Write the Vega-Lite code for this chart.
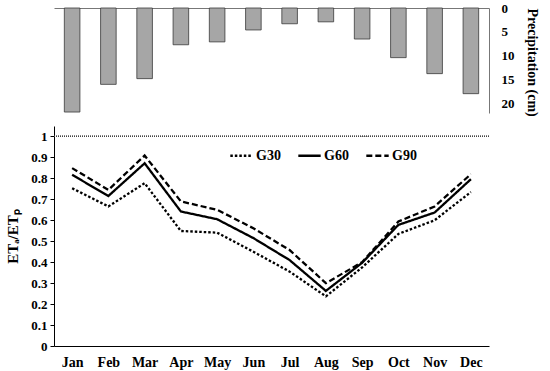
{
  "$schema": "https://vega.github.io/schema/vega-lite/v6.json",
  "padding": {"left": 5, "top": 2, "right": 4, "bottom": 2},
  "spacing": 9,
  "config": {
    "view": {"stroke": null},
    "font": "Liberation Serif",
    "axis": {
      "labelFont": "Liberation Serif", "labelFontWeight": "bold", "labelColor": "black",
      "titleFont": "Liberation Serif", "titleFontWeight": "bold", "titleColor": "black",
      "domainColor": "black", "tickColor": "black", "grid": false
    },
    "legend": {"labelFont": "Liberation Serif", "labelFontWeight": "bold", "labelColor": "black"}
  },
  "datasets": {
    "precip": [
      {"month": "Jan", "precip": 21.8}, {"month": "Feb", "precip": 16.0}, {"month": "Mar", "precip": 14.8},
      {"month": "Apr", "precip": 7.7}, {"month": "May", "precip": 7.1}, {"month": "Jun", "precip": 4.6},
      {"month": "Jul", "precip": 3.3}, {"month": "Aug", "precip": 2.9}, {"month": "Sep", "precip": 6.5},
      {"month": "Oct", "precip": 10.4}, {"month": "Nov", "precip": 13.75}, {"month": "Dec", "precip": 17.95}
    ],
    "ratio": [
      {"month": "Jan", "series": "G30", "value": 0.753}, {"month": "Feb", "series": "G30", "value": 0.666},
      {"month": "Mar", "series": "G30", "value": 0.777}, {"month": "Apr", "series": "G30", "value": 0.549},
      {"month": "May", "series": "G30", "value": 0.541}, {"month": "Jun", "series": "G30", "value": 0.45},
      {"month": "Jul", "series": "G30", "value": 0.355}, {"month": "Aug", "series": "G30", "value": 0.237},
      {"month": "Sep", "series": "G30", "value": 0.375}, {"month": "Oct", "series": "G30", "value": 0.535},
      {"month": "Nov", "series": "G30", "value": 0.6}, {"month": "Dec", "series": "G30", "value": 0.735},
      {"month": "Jan", "series": "G60", "value": 0.817}, {"month": "Feb", "series": "G60", "value": 0.716},
      {"month": "Mar", "series": "G60", "value": 0.872}, {"month": "Apr", "series": "G60", "value": 0.642},
      {"month": "May", "series": "G60", "value": 0.605}, {"month": "Jun", "series": "G60", "value": 0.515},
      {"month": "Jul", "series": "G60", "value": 0.41}, {"month": "Aug", "series": "G60", "value": 0.263},
      {"month": "Sep", "series": "G60", "value": 0.397}, {"month": "Oct", "series": "G60", "value": 0.578},
      {"month": "Nov", "series": "G60", "value": 0.637}, {"month": "Dec", "series": "G60", "value": 0.796},
      {"month": "Jan", "series": "G90", "value": 0.849}, {"month": "Feb", "series": "G90", "value": 0.745},
      {"month": "Mar", "series": "G90", "value": 0.909}, {"month": "Apr", "series": "G90", "value": 0.69},
      {"month": "May", "series": "G90", "value": 0.65}, {"month": "Jun", "series": "G90", "value": 0.562},
      {"month": "Jul", "series": "G90", "value": 0.458}, {"month": "Aug", "series": "G90", "value": 0.3},
      {"month": "Sep", "series": "G90", "value": 0.4}, {"month": "Oct", "series": "G90", "value": 0.594},
      {"month": "Nov", "series": "G90", "value": 0.666}, {"month": "Dec", "series": "G90", "value": 0.82}
    ]
  },
  "vconcat": [
    {
      "width": 435,
      "height": 105,
      "data": {"name": "precip"},
      "mark": {"type": "bar", "fill": "#a6a6a6", "stroke": "#3a3a3a", "strokeWidth": 0.8},
      "encoding": {
        "x": {
          "field": "month", "type": "nominal", "sort": null,
          "scale": {"paddingInner": 0.57, "paddingOuter": 0.285},
          "axis": {"orient": "top", "labels": false, "ticks": false, "title": null, "domainColor": "#777", "domainWidth": 1, "minExtent": 0, "maxExtent": 0}
        },
        "y": {
          "field": "precip", "type": "quantitative",
          "scale": {"domain": [0, 22], "reverse": true, "nice": false, "zero": true},
          "axis": {
            "orient": "right", "values": [0, 5, 10, 15, 20], "ticks": false, "labelPadding": 12,
            "labelFontSize": 13, "domainColor": "#777",
            "title": "Precipitation (cm)", "titleAngle": 90, "titleFontSize": 14, "titlePadding": 10,
            "titleY": 0, "titleAlign": "left"
          }
        }
      }
    },
    {
      "width": 435,
      "height": 220,
      "data": {"name": "ratio"},
      "encoding": {
        "y": {
          "field": "value", "type": "quantitative",
          "scale": {"domain": [0, 1.05], "nice": false},
          "axis": {
            "values": [0, 0.1, 0.2, 0.3, 0.4, 0.5, 0.6, 0.7, 0.8, 0.9, 1], "format": "~g",
            "labelOverlap": false, "tickSize": 4, "labelPadding": 3, "labelFontSize": 13,
            "title": "ETₐ/ETₚ", "titleFontSize": 15, "titlePadding": 10
          }
        }
      },
      "layer": [
        {
          "mark": {"type": "rule", "strokeDash": [1, 1], "strokeWidth": 1, "color": "#444"},
          "encoding": {"y": {"datum": 1, "type": "quantitative"}}
        },
        {
          "mark": {"type": "line", "color": "black", "strokeWidth": 2.3, "strokeCap": "butt"},
          "encoding": {
            "x": {
              "field": "month", "type": "ordinal", "sort": null,
              "scale": {"type": "point", "padding": 0.5},
              "axis": {"title": null, "ticks": false, "labelPadding": 9, "labelFontSize": 14, "labelAngle": 0, "domainWidth": 1}
            },
            "strokeDash": {
              "field": "series", "type": "nominal",
              "scale": {"domain": ["G30", "G60", "G90"], "range": [[2.5, 2], [1, 0], [6, 3]]},
              "legend": {
                "title": null, "orient": "none", "legendX": 175, "legendY": 135, "direction": "horizontal",
                "symbolType": "stroke", "symbolSize": 500, "symbolStrokeWidth": 2.3, "symbolStrokeColor": "black",
                "labelFontSize": 14, "labelOffset": 2, "columnPadding": 12
              }
            }
          }
        }
      ]
    }
  ]
}
